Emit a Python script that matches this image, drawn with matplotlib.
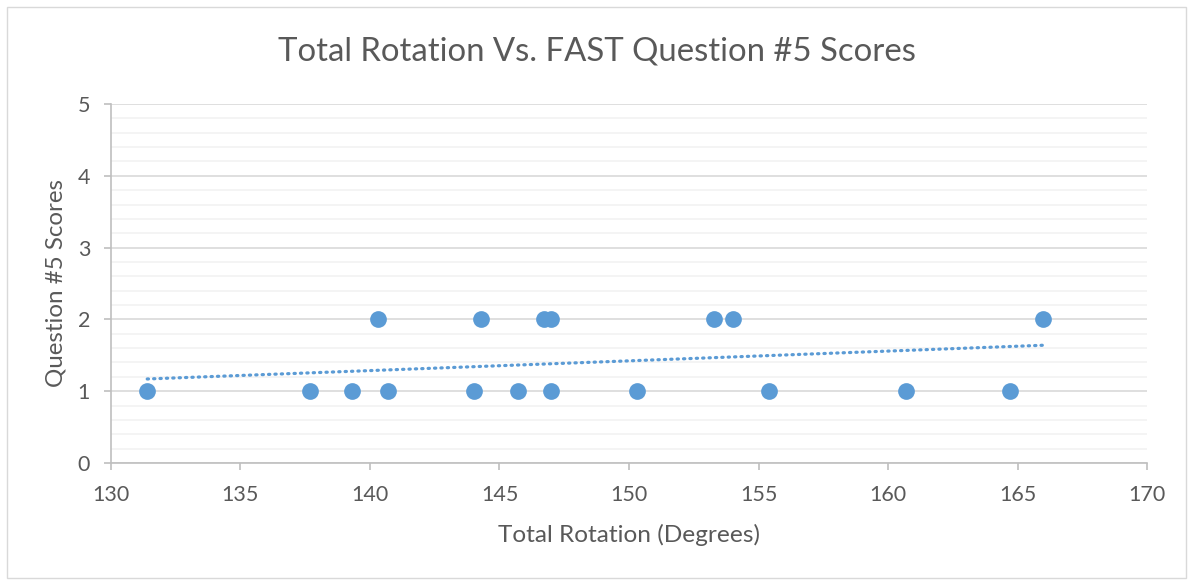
import matplotlib
matplotlib.use("Agg")
import matplotlib.pyplot as plt
import numpy as np
from matplotlib.patches import Rectangle

rotation_deg = [131.4, 137.7, 139.3, 140.7, 144.0, 145.7, 147.0, 150.3, 155.4, 160.7, 164.7,
                140.3, 144.3, 146.7, 147.0, 153.3, 154.0, 166.0]
q5_scores = [1, 1, 1, 1, 1, 1, 1, 1, 1, 1, 1,
             2, 2, 2, 2, 2, 2, 2]
# linear trendline as drawn in the source chart
trend_x = [131.4, 166.0]
trend_y = [1.17, 1.64]
x_ticks = [130, 135, 140, 145, 150, 155, 160, 165, 170]
y_ticks = [0, 1, 2, 3, 4, 5]

plt.rcParams['font.family'] = ['Lato', 'DejaVu Sans']
blue = '#5B9BD5'
text_c = '#595959'

fig = plt.figure(figsize=(11.93, 5.82), dpi=100)
fig.patches.append(Rectangle((0.006, 0.007), 0.988, 0.981, transform=fig.transFigure,
                             fill=False, edgecolor='#D9D9D9', linewidth=1))
ax = fig.add_axes([0.093, 0.2045, 0.8685, 0.6168])

ax.set_xlim(130, 170)
ax.set_ylim(0, 5)
ax.set_xticks(x_ticks)
ax.set_yticks(y_ticks)
ax.set_yticks(np.arange(0, 5.01, 0.2), minor=True)
ax.grid(True, which='major', axis='y', color='#D9D9D9', linewidth=1.2)
ax.grid(True, which='minor', axis='y', color='#F2F2F2', linewidth=1.2)
ax.set_axisbelow(True)

for s in ['top', 'right']:
    ax.spines[s].set_visible(False)
for s in ['left', 'bottom']:
    ax.spines[s].set_color('#BFBFBF')
    ax.spines[s].set_linewidth(1.2)
ax.tick_params(axis='both', which='major', direction='out', length=5, color='#BFBFBF',
               labelcolor=text_c, labelsize=15.5, width=1.2)
ax.tick_params(axis='y', which='minor', length=0)
ax.tick_params(axis='x', pad=11)
ax.tick_params(axis='y', pad=10)

ax.scatter(rotation_deg, q5_scores, s=145, color=blue, zorder=3, linewidths=0)

ax.plot(trend_x, trend_y, color=blue, linewidth=2.3,
        linestyle=(0, (0.4, 1.6)), dash_capstyle='round', zorder=2)

ax.set_xlabel('Total Rotation (Degrees)', fontsize=17.6, color=text_c, labelpad=13.5)
ax.set_ylabel('Question #5 Scores', fontsize=17.4, color=text_c, labelpad=8)
fig.text(0.5, 0.912, 'Total Rotation Vs. FAST Question #5 Scores', ha='center', va='center',
         fontsize=23.7, color=text_c)

fig.savefig('out.png', dpi=100)
